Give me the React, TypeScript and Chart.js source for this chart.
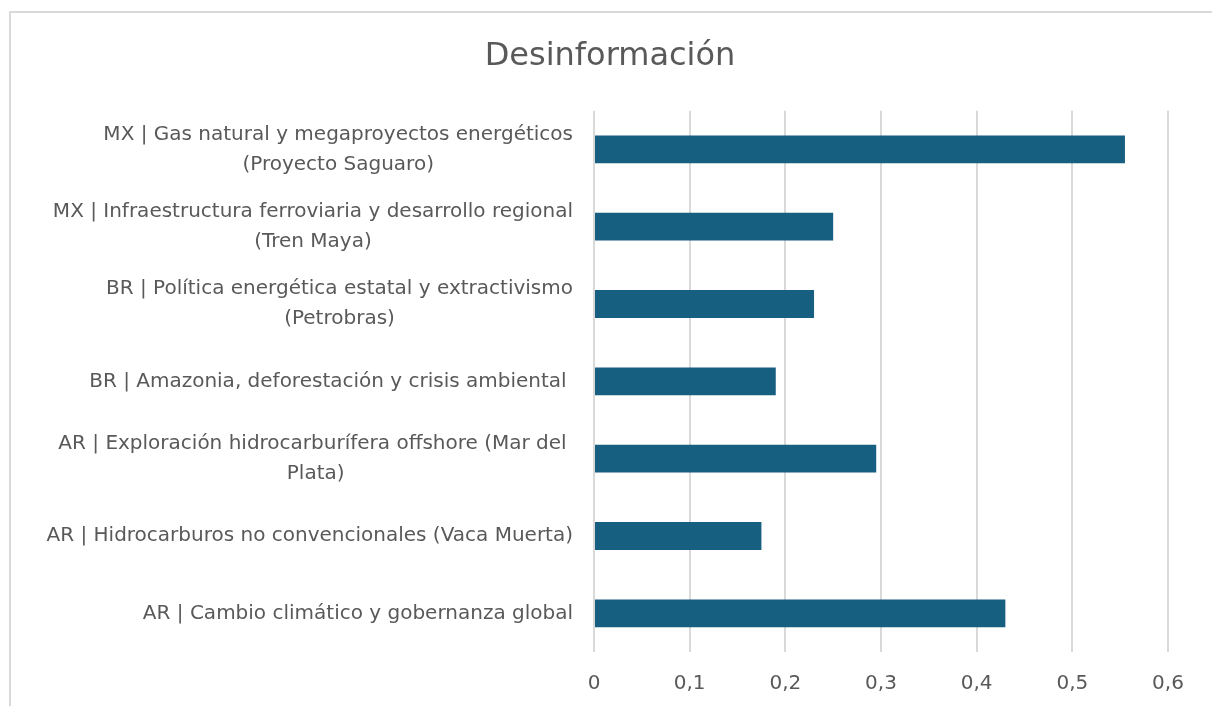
import React, { useEffect, useRef } from "react";
import { Chart, registerables } from "chart.js";

Chart.register(...registerables);

const TITLE = "Desinformación";
const categories: string[][] = [
  ["MX | Gas natural y megaproyectos energéticos", "(Proyecto Saguaro)"],
  ["MX | Infraestructura ferroviaria y desarrollo regional", "(Tren Maya)"],
  ["BR | Política energética estatal y extractivismo", "(Petrobras)"],
  ["BR | Amazonia, deforestación y crisis ambiental "],
  ["AR | Exploración hidrocarburífera offshore (Mar del ", "Plata)"],
  ["AR | Hidrocarburos no convencionales (Vaca Muerta)"],
  ["AR | Cambio climático y gobernanza global"],
];
const values: number[] = [0.555, 0.25, 0.23, 0.19, 0.295, 0.175, 0.43];
const xMin = 0;
const xMax = 0.6;
const xStep = 0.1;

const FONT = "'DejaVu Sans', sans-serif";
const TEXT_COLOR = "#595959";
const BAR_COLOR = "#175f80";
const GRID_COLOR = "#d9d9d9";
const LABEL_SIZE = 20;
const LINE_H = 30;

const yLabelPlugin = {
  id: "yLabelPlugin",
  afterDraw(chart: any) {
    const ctx = chart.ctx;
    const yScale = chart.scales.y;
    ctx.save();
    ctx.font = `${LABEL_SIZE}px ${FONT}`;
    ctx.fillStyle = TEXT_COLOR;
    ctx.textAlign = "center";
    ctx.textBaseline = "middle";
    const right = chart.chartArea.left - 21;
    categories.forEach((lines, i) => {
      const cy = yScale.getPixelForValue(i);
      const w = Math.max(...lines.map((l) => ctx.measureText(l).width));
      const cx = right - w / 2;
      lines.forEach((l, j) => {
        ctx.fillText(l, cx, cy + (j - (lines.length - 1) / 2) * LINE_H);
      });
    });
    ctx.restore();
  },
};

export default function App() {
  const ref = useRef<HTMLCanvasElement | null>(null);
  useEffect(() => {
    if (!ref.current) return;
    const chart = new Chart(ref.current, {
      type: "bar",
      data: {
        labels: categories.map((c) => c.join(" ")),
        datasets: [
          {
            data: values,
            backgroundColor: BAR_COLOR,
            borderWidth: 0,
            barPercentage: 0.6,
            categoryPercentage: 0.6,
          },
        ],
      },
      options: {
        indexAxis: "y",
        responsive: false,
        animation: false,
        devicePixelRatio: 1,
        layout: { padding: { left: 41, right: 44, top: 0, bottom: 12 } },
        plugins: {
          legend: { display: false },
          tooltip: { enabled: false },
          title: {
            display: true,
            text: TITLE,
            color: TEXT_COLOR,
            font: { family: FONT, size: 32, weight: "normal" },
            padding: { top: 24.5, bottom: 34.8 },
          },
        },
        scales: {
          x: {
            min: xMin,
            max: xMax,
            border: { display: false },
            grid: { color: GRID_COLOR, lineWidth: 2, drawTicks: false },
            ticks: {
              stepSize: xStep,
              padding: 20,
              color: TEXT_COLOR,
              font: { family: FONT, size: LABEL_SIZE },
              callback: (v: any) => {
                const n = Number(v);
                return n === 0 ? "0" : n.toFixed(1).replace(".", ",");
              },
            },
          },
          y: {
            border: { display: false },
            grid: { display: false },
            ticks: { display: false },
            afterFit: (scale: any) => {
              scale.width = 542;
            },
          },
        },
      },
      plugins: [yLabelPlugin],
    });
    return () => chart.destroy();
  }, []);

  return (
    <>
      <div
        style={{
          position: "fixed",
          left: 9,
          top: 11,
          width: 1203,
          height: 717,
          boxSizing: "border-box",
          borderTop: "2px solid #d9d9d9",
          borderLeft: "2px solid #d9d9d9",
          background: "#fff",
        }}
      />
      <canvas
        ref={ref}
        width={1201}
        height={715}
        style={{ position: "fixed", left: 11, top: 13, width: 1201, height: 715 }}
      />
    </>
  );
}
